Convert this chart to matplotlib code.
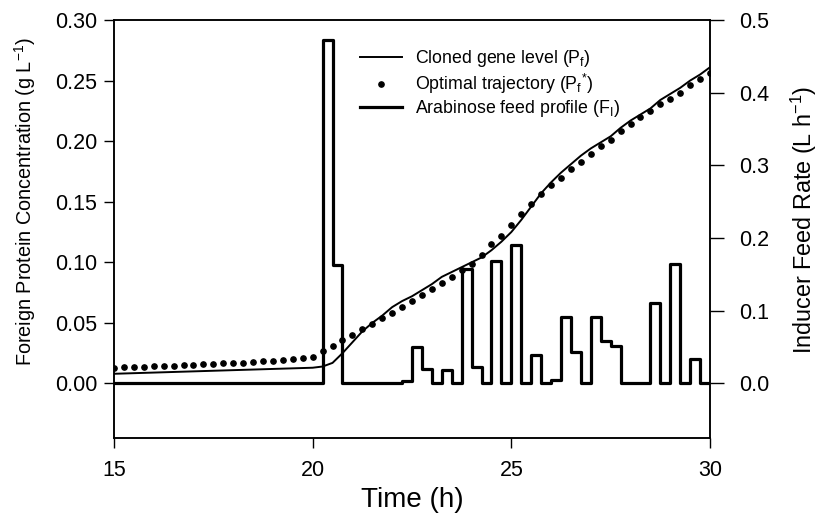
import numpy as np
import matplotlib
matplotlib.use("Agg")
import matplotlib.pyplot as plt

plt.rcParams['font.family'] = ['Liberation Sans', 'DejaVu Sans']
plt.rcParams['mathtext.fontset'] = 'custom'
plt.rcParams['mathtext.rm'] = 'Liberation Sans'
plt.rcParams['mathtext.it'] = 'Liberation Sans'

# Cloned gene level P_f (g/L)
pf_time = [15, 16, 17, 18, 19, 20, 20.25, 20.5, 20.75, 21, 21.25, 21.5, 21.75, 22,
           22.25, 22.5, 22.75, 23, 23.25, 23.5, 23.75, 24, 24.25, 24.5, 24.75, 25,
           25.25, 25.5, 25.75, 26, 26.25, 26.5, 26.75, 27, 27.25, 27.5, 27.75, 28,
           28.25, 28.5, 28.75, 29, 29.25, 29.5, 29.75, 30]
pf_value = [0.008, 0.009, 0.010, 0.011, 0.012, 0.013, 0.014, 0.017, 0.025, 0.034,
            0.043, 0.050, 0.056, 0.063, 0.068, 0.072, 0.077, 0.082, 0.088, 0.092,
            0.096, 0.100, 0.104, 0.110, 0.117, 0.125, 0.135, 0.146, 0.157, 0.166,
            0.174, 0.181, 0.188, 0.194, 0.199, 0.204, 0.211, 0.217, 0.222, 0.227,
            0.234, 0.239, 0.244, 0.250, 0.255, 0.261]

# Optimal trajectory P_f* (every 0.25 h from 15 to 30)
opt_time = [15 + 0.25 * i for i in range(61)]
opt_value = [0.0130, 0.0133, 0.0136, 0.0139, 0.0142, 0.0145, 0.0148, 0.0151, 0.0154,
             0.0157, 0.0161, 0.0165, 0.0169, 0.0173, 0.0178, 0.0183, 0.0189, 0.0195,
             0.0202, 0.0210, 0.0220,
             0.027, 0.031, 0.036, 0.040, 0.045, 0.049, 0.054, 0.058, 0.063, 0.068,
             0.073, 0.078, 0.083, 0.088, 0.094, 0.099, 0.106, 0.115, 0.122, 0.131,
             0.140, 0.148, 0.156, 0.164, 0.170, 0.177, 0.183, 0.189, 0.196, 0.201,
             0.208, 0.214, 0.220, 0.225, 0.231, 0.235, 0.240, 0.246, 0.251, 0.256]

# Arabinose feed profile F_I (L/h), piecewise constant; interval start times
feed_time = [15, 20.25, 20.5, 20.75, 21.0, 21.25, 21.5, 21.75, 22.0, 22.25, 22.5,
             22.75, 23.0, 23.25, 23.5, 23.75, 24.0, 24.25, 24.5, 24.75, 25.0, 25.25,
             25.5, 25.75, 26.0, 26.25, 26.5, 26.75, 27.0, 27.25, 27.5, 27.75, 28.0,
             28.25, 28.5, 28.75, 29.0, 29.25, 29.5, 29.75, 30]
feed_rate = [0.0, 0.472, 0.163, 0.0, 0.0, 0.0, 0.0, 0.0, 0.0, 0.003, 0.050,
             0.020, 0.0, 0.018, 0.0, 0.157, 0.022, 0.0, 0.168, 0.0, 0.191, 0.0,
             0.039, 0.0, 0.005, 0.091, 0.043, 0.0, 0.091, 0.059, 0.052, 0.0, 0.0,
             0.0, 0.111, 0.0, 0.165, 0.0, 0.033, 0.0, 0.0]

left_ticks = [0.00, 0.05, 0.10, 0.15, 0.20, 0.25, 0.30]
right_ticks = [0.0, 0.1, 0.2, 0.3, 0.4, 0.5]
x_ticks = [15, 20, 25, 30]

fig = plt.figure(figsize=(8.22, 5.14), dpi=100)
ax = fig.add_axes([114/822, 1-438/514, (710-114)/822, (438-20)/514])
ax2 = ax.twinx()

ln1, = ax.plot(pf_time, pf_value, color='black', lw=1.4, zorder=3)
ln2, = ax.plot(opt_time, opt_value, linestyle='none', marker='o', ms=3.8,
               color='black', zorder=3)
ln3, = ax2.step(feed_time, feed_rate, where='post', color='black', lw=2.3)

ax.set_xlim(15, 30)
ax.set_ylim(-0.045, 0.30)
ax2.set_ylim(-0.075, 0.5)
ax.set_xticks(x_ticks)
ax.set_xticklabels([str(t) for t in x_ticks])
ax.set_yticks(left_ticks)
ax.set_yticklabels([f"{v:.2f}" for v in left_ticks])
ax2.set_yticks(right_ticks)
ax2.set_yticklabels([f"{v:.1f}" for v in right_ticks])

for a in (ax, ax2):
    for s in a.spines.values():
        s.set_linewidth(1.1)
ax.tick_params(axis='x', direction='out', length=7, width=1, labelsize=15.5, pad=9)
ax.tick_params(axis='y', direction='out', length=7, width=1, labelsize=15.5, pad=5)
ax2.tick_params(axis='y', direction='out', length=10, width=1, labelsize=15.5, pad=11)

ax.set_xlabel('Time (h)', fontsize=20, labelpad=4)
ax.set_ylabel('Foreign Protein Concentration (g L$^{-1}$)', fontsize=14.3)
ax.yaxis.set_label_coords((38 - 114) / 596, (438 - 201.5) / 418)
ax2.set_ylabel('Inducer Feed Rate (L h$^{-1}$)', fontsize=16.8)
ax2.yaxis.set_label_coords(1.0 + (789 - 710) / 596, (438 - 220) / 418)

ax.legend([ln1, ln2, ln3],
          ['Cloned gene level (P$_\\mathrm{f}$)',
           'Optimal trajectory (P$_\\mathrm{f}$$^{*}$)',
           'Arabinose feed profile (F$_\\mathrm{I}$)'],
          loc='upper left', bbox_to_anchor=(0.40, 0.95), frameon=False,
          fontsize=12.8, handlelength=2.4, labelspacing=0.15, handletextpad=0.7,
          borderaxespad=0)

fig.savefig('out.png', dpi=100)
